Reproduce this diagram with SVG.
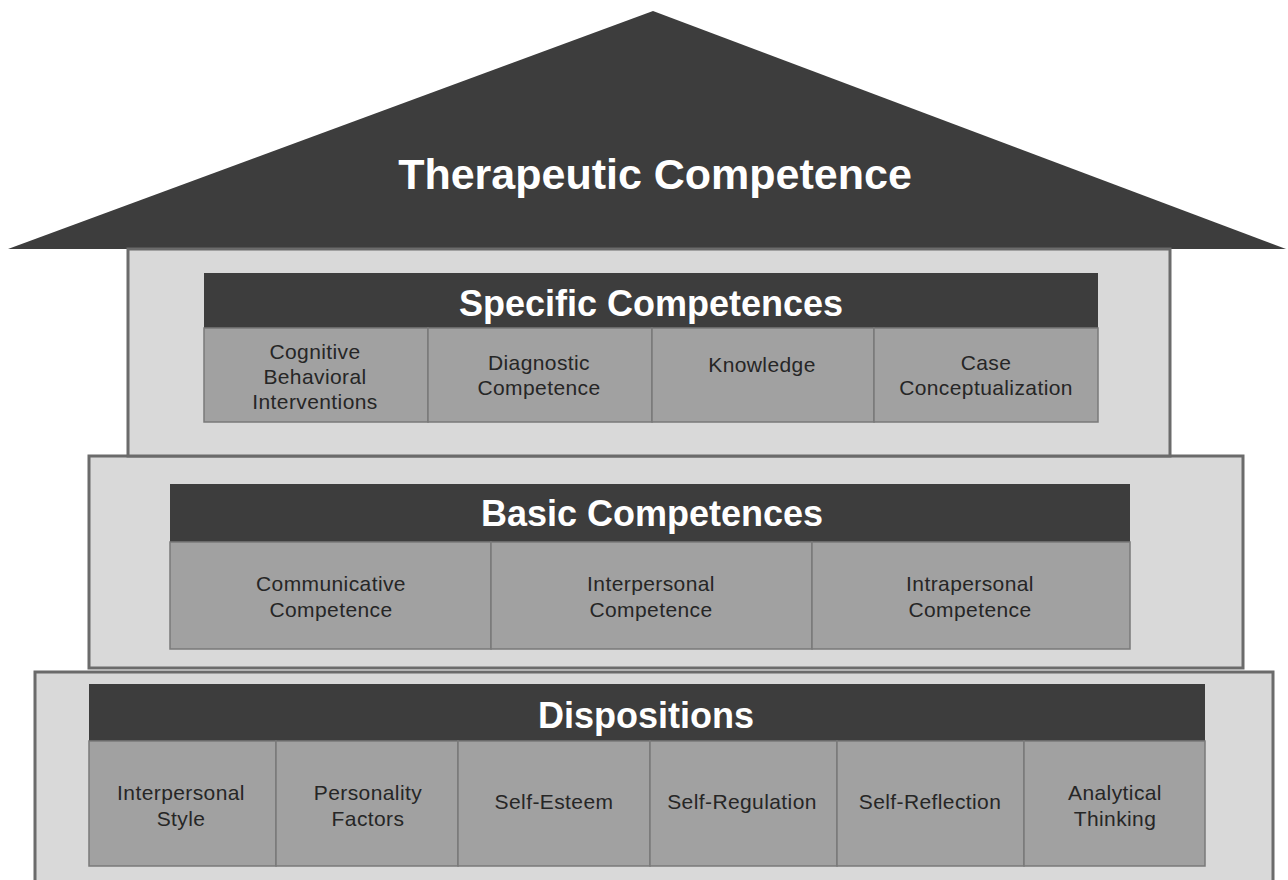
<svg xmlns="http://www.w3.org/2000/svg" width="1288" height="880" viewBox="0 0 1288 880">
<style>
.frame{fill:#d9d9d9;stroke:#6b6b6b;stroke-width:3}
.hdr{fill:#3d3d3d}
.cell{fill:#a1a1a1;stroke:#7a7a7a;stroke-width:1.5}
.ht{font-family:"Liberation Sans",Arial,sans-serif;font-weight:bold;fill:#ffffff;text-anchor:middle}
.ct{font-family:"Liberation Sans",Arial,sans-serif;font-size:21px;letter-spacing:0.4px;fill:#262626;text-anchor:middle}
</style>
<rect width="1288" height="880" fill="#ffffff"/>
<g id="roof">
<polygon points="653,11 8,249 1286,249" fill="#3d3d3d"/>
<text class="ht" x="655" y="189" font-size="43">Therapeutic Competence</text>
</g>
<g id="dispositions">
<rect class="frame" x="35" y="672" width="1238" height="215"/>
<rect class="hdr" x="89" y="684" width="1116" height="57"/>
<text class="ht" x="646" y="728" font-size="36">Dispositions</text>
<rect class="cell" x="89" y="741" width="187" height="125"/>
<rect class="cell" x="276" y="741" width="182" height="125"/>
<rect class="cell" x="458" y="741" width="192" height="125"/>
<rect class="cell" x="650" y="741" width="187" height="125"/>
<rect class="cell" x="837" y="741" width="187" height="125"/>
<rect class="cell" x="1024" y="741" width="181" height="125"/>
<text class="ct" x="181" y="800">Interpersonal</text><text class="ct" x="181" y="826">Style</text>
<text class="ct" x="368" y="800">Personality</text><text class="ct" x="368" y="826">Factors</text>
<text class="ct" x="554" y="809">Self-Esteem</text>
<text class="ct" x="742" y="809">Self-Regulation</text>
<text class="ct" x="930" y="809">Self-Reflection</text>
<text class="ct" x="1115" y="800">Analytical</text><text class="ct" x="1115" y="826">Thinking</text>
</g>
<g id="basic">
<rect class="frame" x="89" y="456" width="1154" height="212"/>
<rect class="hdr" x="170" y="484" width="960" height="58"/>
<text class="ht" x="652" y="526" font-size="36">Basic Competences</text>
<rect class="cell" x="170" y="542" width="321" height="107"/>
<rect class="cell" x="491" y="542" width="321" height="107"/>
<rect class="cell" x="812" y="542" width="318" height="107"/>
<text class="ct" x="331" y="591">Communicative</text><text class="ct" x="331" y="617">Competence</text>
<text class="ct" x="651" y="591">Interpersonal</text><text class="ct" x="651" y="617">Competence</text>
<text class="ct" x="970" y="591">Intrapersonal</text><text class="ct" x="970" y="617">Competence</text>
</g>
<g id="specific">
<rect class="frame" x="128" y="249" width="1042" height="207"/>
<rect class="hdr" x="204" y="273" width="894" height="55"/>
<text class="ht" x="651" y="316" font-size="36">Specific Competences</text>
<rect class="cell" x="204" y="328" width="224" height="94"/>
<rect class="cell" x="428" y="328" width="224" height="94"/>
<rect class="cell" x="652" y="328" width="222" height="94"/>
<rect class="cell" x="874" y="328" width="224" height="94"/>
<text class="ct" x="315" y="359">Cognitive</text><text class="ct" x="315" y="384">Behavioral</text><text class="ct" x="315" y="409">Interventions</text>
<text class="ct" x="539" y="370">Diagnostic</text><text class="ct" x="539" y="395">Competence</text>
<text class="ct" x="762" y="372">Knowledge</text>
<text class="ct" x="986" y="370">Case</text><text class="ct" x="986" y="395">Conceptualization</text>
</g>
</svg>
